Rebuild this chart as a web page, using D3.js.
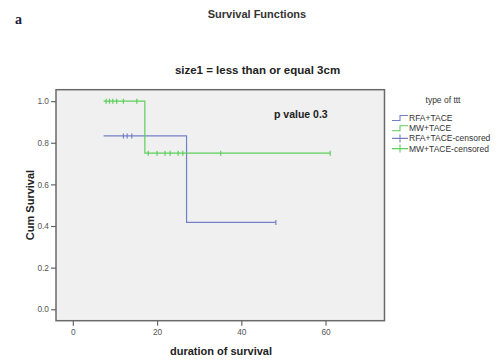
<!DOCTYPE html>
<html><head><meta charset="utf-8">
<script src="https://cdn.jsdelivr.net/npm/d3@7"></script>
<style>body{margin:0;background:#fff}svg{display:block}</style>
</head><body>
<svg id="c" width="501" height="362"></svg>
<script>
// ---- data ----
const xTicks = [0, 20, 40, 60];
const yTicks = [0.0, 0.2, 0.4, 0.6, 0.8, 1.0];
const seriesNames = ["RFA+TACE", "MW+TACE"];
// step points (time, cumulative survival)
const rfaSteps = [[7.3, 0.833], [27.0, 0.417], [48.2, 0.417]];
const mwSteps  = [[7.3, 1.0], [17.1, 0.75], [61.1, 0.75]];
// censored observations
const rfaCensored = [[12.0, 0.833], [12.9, 0.833], [14.0, 0.833], [48.2, 0.417]];
const mwCensored  = [[7.9, 1.0], [8.7, 1.0], [9.5, 1.0], [10.4, 1.0], [12.0, 1.0], [15.2, 1.0],
                     [17.9, 0.75], [20.0, 0.75], [21.9, 0.75], [23.1, 0.75], [25.0, 0.75], [26.1, 0.75],
                     [35.1, 0.75], [61.1, 0.75]];
const legendLabels = ["RFA+TACE", "MW+TACE", "RFA+TACE-censored", "MW+TACE-censored"];

const blue = "#7480c8", green = "#5ccf5c";
const svg = d3.select("#c");
const font = "Liberation Sans, Arial, sans-serif";

const L = 56, R = 384.5, T = 89.7, B = 320.7;
const x = d3.scaleLinear().domain([-4, 74]).range([L, R]);
const y = d3.scaleLinear().domain([-0.055, 1.055]).range([B, T]);

// texts
svg.append("text").attr("x", 15).attr("y", 24).attr("font-family", "Liberation Serif, Times New Roman, serif")
  .attr("font-weight", "bold").attr("font-size", 14).attr("fill", "#1c1c3a").text("a");
svg.append("text").attr("x", 257).attr("y", 18).attr("text-anchor", "middle").attr("font-family", font)
  .attr("font-weight", "bold").attr("font-size", 11).attr("fill", "#333").text("Survival Functions");
svg.append("text").attr("x", 257.5).attr("y", 74).attr("text-anchor", "middle").attr("font-family", font)
  .attr("font-weight", "bold").attr("font-size", 11.5).attr("fill", "#222").text("size1 = less than or equal 3cm");

// plot background
svg.append("rect").attr("x", L).attr("y", T).attr("width", R - L).attr("height", B - T)
  .attr("fill", "#f0f0f0").attr("stroke", "#6a6a6a").attr("stroke-width", 1.5);

// axes
const yAxis = d3.axisLeft(y).tickValues(yTicks).tickFormat(d3.format(".1f")).tickSize(5).tickPadding(2);
const gy = svg.append("g").attr("transform", `translate(${L},0)`).call(yAxis);
const xAxis = d3.axisBottom(x).tickValues(xTicks).tickFormat(d3.format("d")).tickSize(5).tickPadding(3);
const gx = svg.append("g").attr("transform", `translate(0,${B})`).call(xAxis);
[gx, gy].forEach(g => {
  g.select(".domain").remove();
  g.selectAll(".tick line").attr("stroke", "#666").attr("stroke-width", 1.2);
  g.selectAll(".tick text").attr("font-family", font).attr("font-size", 8.3).attr("fill", "#555");
});

svg.append("text").attr("transform", "translate(34,205) rotate(-90)").attr("text-anchor", "middle")
  .attr("font-family", font).attr("font-weight", "bold").attr("font-size", 11).attr("fill", "#222").text("Cum Survival");
svg.append("text").attr("x", 221).attr("y", 355).attr("text-anchor", "middle")
  .attr("font-family", font).attr("font-weight", "bold").attr("font-size", 11).attr("fill", "#222").text("duration of survival");

svg.append("text").attr("x", 274).attr("y", 118).attr("font-family", font).attr("font-weight", "bold")
  .attr("font-size", 10.5).attr("fill", "#222").text("p value 0.3");

// lines
const line = d3.line().x(d => x(d[0])).y(d => y(d[1])).curve(d3.curveStepAfter);
const series = [{steps: rfaSteps, cens: rfaCensored, color: blue}, {steps: mwSteps, cens: mwCensored, color: green}];
series.forEach(s => {
  svg.append("path").datum(s.steps).attr("d", line).attr("fill", "none")
    .attr("stroke", s.color).attr("stroke-width", 1.2);
  svg.append("g").selectAll("line").data(s.cens).join("line")
    .attr("x1", d => x(d[0])).attr("x2", d => x(d[0]))
    .attr("y1", d => y(d[1]) - 2.5).attr("y2", d => y(d[1]) + 2.5)
    .attr("stroke", s.color).attr("stroke-width", 1.2);
});

// legend
svg.append("text").attr("x", 443).attr("y", 103).attr("text-anchor", "middle").attr("font-family", font)
  .attr("font-size", 8.5).attr("fill", "#333").text("type of ttt");
const legColors = [blue, green, blue, green];
legendLabels.forEach((lab, i) => {
  const cy = 118 + i * 10.2;
  const c = legColors[i];
  if (i < 2) {
    svg.append("path").attr("d", `M392,${cy + 2.5}H400V${cy - 2.5}H408`).attr("fill", "none")
      .attr("stroke", c).attr("stroke-width", 1.1);
  } else {
    svg.append("path").attr("d", `M392,${cy}H408M400,${cy - 4}V${cy + 4}`).attr("fill", "none")
      .attr("stroke", c).attr("stroke-width", 1.1);
  }
  svg.append("text").attr("x", 409).attr("y", cy + 3).attr("font-family", font)
    .attr("font-size", 8.5).attr("fill", "#333").text(lab);
});
</script>
</body></html>
